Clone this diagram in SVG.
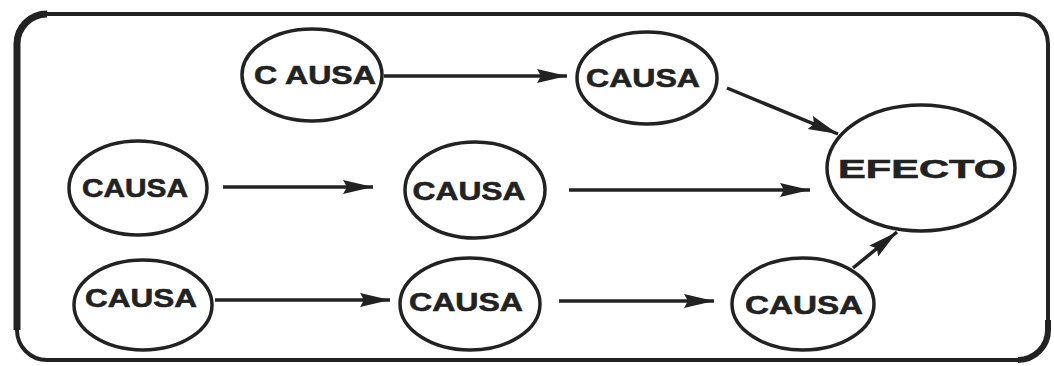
<svg xmlns="http://www.w3.org/2000/svg" width="1054" height="366" viewBox="0 0 1054 366">
<style>
.node ellipse{fill:#fff;stroke:#222;stroke-width:3.5}
.node text{font-family:"Liberation Sans",Arial,sans-serif;font-weight:bold;font-size:26px;fill:#222;text-anchor:middle;stroke:#222;stroke-width:0.6}
.conn line{stroke:#222;stroke-width:3.5}
</style>
<defs>
<marker id="ah" markerUnits="userSpaceOnUse" markerWidth="32" markerHeight="16" refX="30" refY="8" orient="auto">
<path d="M0,1 L30,8 L0,15 L4,8 z" fill="#222"/>
</marker>
</defs>
<rect x="17" y="14" width="1031" height="346" rx="30" fill="none" stroke="#222" stroke-width="4"/>
<path d="M17,330 L17,44 A30,30 0 0 1 47,14" fill="none" stroke="#222" stroke-width="7"/>
<path d="M1048,320 L1048,330 A30,30 0 0 1 1018,360" fill="none" stroke="#222" stroke-width="6"/>
<g id="n1" class="node"><ellipse cx="312" cy="75" rx="70" ry="46"/><text x="315" y="84" textLength="122" lengthAdjust="spacingAndGlyphs">C AUSA</text></g>
<g id="n2" class="node"><ellipse cx="647" cy="78" rx="70" ry="46"/><text x="643" y="87" textLength="114" lengthAdjust="spacingAndGlyphs">CAUSA</text></g>
<g id="n3" class="node"><ellipse cx="921" cy="168" rx="94" ry="63"/><text x="922" y="178" font-size="29" textLength="168" lengthAdjust="spacingAndGlyphs">EFECTO</text></g>
<g id="n4" class="node"><ellipse cx="138" cy="188" rx="69" ry="47"/><text x="135" y="197" textLength="106" lengthAdjust="spacingAndGlyphs">CAUSA</text></g>
<g id="n5" class="node"><ellipse cx="475" cy="190" rx="70" ry="48"/><text x="469" y="200" textLength="113" lengthAdjust="spacingAndGlyphs">CAUSA</text></g>
<g id="n6" class="node"><ellipse cx="143" cy="305" rx="69" ry="45"/><text x="141" y="307" textLength="112" lengthAdjust="spacingAndGlyphs">CAUSA</text></g>
<g id="n7" class="node"><ellipse cx="470" cy="304" rx="70" ry="46"/><text x="466" y="311" textLength="114" lengthAdjust="spacingAndGlyphs">CAUSA</text></g>
<g id="n8" class="node"><ellipse cx="803" cy="304" rx="71" ry="46"/><text x="804" y="314" textLength="118" lengthAdjust="spacingAndGlyphs">CAUSA</text></g>
<g id="connectors" class="conn">
<line x1="384" y1="76" x2="567" y2="76" marker-end="url(#ah)"/>
<line x1="727" y1="88" x2="838" y2="134" marker-end="url(#ah)"/>
<line x1="223" y1="187" x2="373" y2="187" marker-end="url(#ah)"/>
<line x1="569" y1="190" x2="810" y2="190" marker-end="url(#ah)"/>
<line x1="215" y1="300" x2="390" y2="300" marker-end="url(#ah)"/>
<line x1="559" y1="301" x2="714" y2="301" marker-end="url(#ah)"/>
<line x1="853" y1="268" x2="897" y2="232" marker-end="url(#ah)"/>
</g>
</svg>
